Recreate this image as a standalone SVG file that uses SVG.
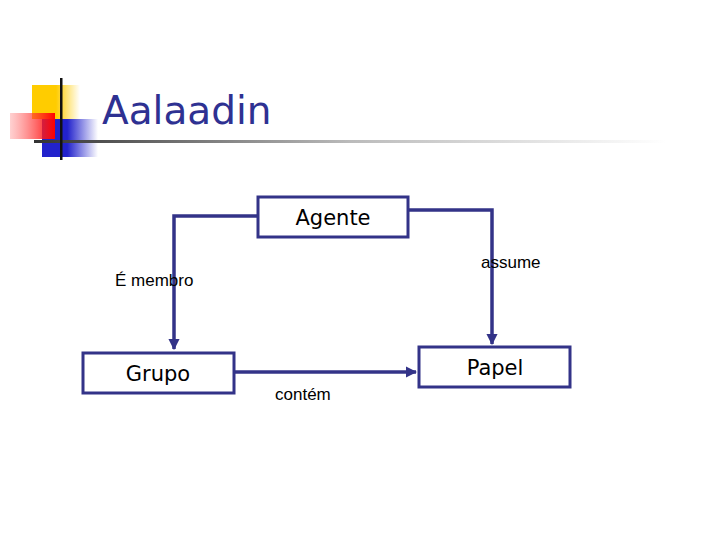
<svg xmlns="http://www.w3.org/2000/svg" width="720" height="540" viewBox="0 0 720 540">
<style>
.box{fill:#fff;stroke:#333388;stroke-width:3}
.conn{fill:none;stroke:#333388;stroke-width:3.5}
.lbl{font-family:"Liberation Sans",Arial,sans-serif;font-size:17px;fill:#000}
.nt{font-family:"DejaVu Sans","Liberation Sans",sans-serif;font-size:21px;fill:#000;text-anchor:middle}
</style>
<defs>
<marker id="arr" viewBox="0 0 10 10" refX="9" refY="5" markerWidth="3.2" markerHeight="3.2" orient="auto" markerUnits="strokeWidth">
<path d="M0,0 L10,5 L0,10 z" fill="#333388"/>
</marker>
<linearGradient id="yel" x1="0" x2="1" y1="0" y2="0"><stop offset="0.5" stop-color="#ffcc00"/><stop offset="1" stop-color="#ffcc00" stop-opacity="0"/></linearGradient>
<linearGradient id="red" x1="0" x2="1" y1="0" y2="0"><stop offset="0" stop-color="#ff6666" stop-opacity="0.3"/><stop offset="1" stop-color="#ff0000"/></linearGradient>
<linearGradient id="blu" x1="0" x2="1" y1="0" y2="0"><stop offset="0.45" stop-color="#2222cc"/><stop offset="1" stop-color="#2222cc" stop-opacity="0"/></linearGradient>
<linearGradient id="hl" x1="0" x2="1" y1="0" y2="0"><stop offset="0" stop-color="#333"/><stop offset="0.5" stop-color="#bbb"/><stop offset="1" stop-color="#fff"/></linearGradient>
</defs>
<g id="decoration">
<rect x="32" y="85" width="48" height="34" fill="url(#yel)"/>
<rect x="42" y="119" width="56" height="38" fill="url(#blu)"/>
<rect x="10" y="113" width="45" height="26" fill="url(#red)"/>
<rect x="34" y="140" width="632" height="3" fill="url(#hl)"/>
<rect x="60" y="78" width="2.5" height="82" fill="#111"/>
</g>
<g id="title">
<text x="102" y="124" font-family="DejaVu Sans, sans-serif" font-size="39" fill="#2e3192">Aalaadin</text>
</g>
<g id="connectors">
<path class="conn" d="M258,216 H174 V349" marker-end="url(#arr)"/>
<path class="conn" d="M408,210 H492 V344" marker-end="url(#arr)"/>
<path class="conn" d="M235,372 H416" marker-end="url(#arr)"/>
<text class="lbl" x="115" y="286">É membro</text>
<text class="lbl" x="481" y="268">assume</text>
<text class="lbl" x="275" y="400">contém</text>
</g>
<g id="agente">
<rect class="box" x="258" y="197" width="150" height="40"/>
<text class="nt" x="333" y="225">Agente</text>
</g>
<g id="grupo">
<rect class="box" x="83" y="353" width="151" height="40"/>
<text class="nt" x="158" y="381">Grupo</text>
</g>
<g id="papel">
<rect class="box" x="419" y="347" width="151" height="40"/>
<text class="nt" x="495" y="375">Papel</text>
</g>
</svg>
